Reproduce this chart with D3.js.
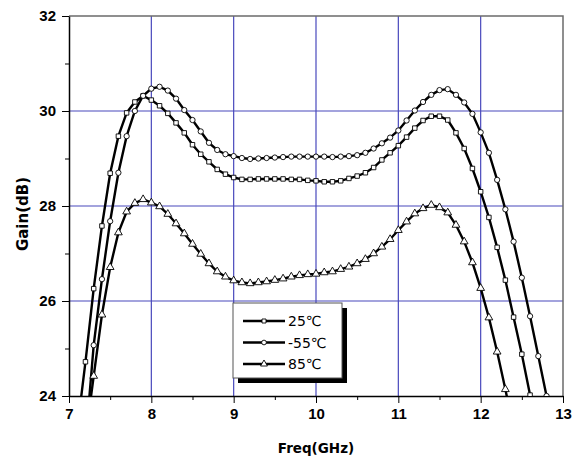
<!DOCTYPE html>
<html>
<head>
<meta charset="utf-8">
<script src="https://cdn.jsdelivr.net/npm/d3@7"></script>
<style>
  body { margin: 0; background: #fff; }
  .tick text { font-family: "Liberation Sans", Arial, sans-serif; font-weight: bold; font-size: 15px; fill: #000; }
</style>
</head>
<body>
<svg width="575" height="458"></svg>
<script>
// frequency points (GHz)
var freq = [7.1, 7.2, 7.3, 7.4, 7.5, 7.6, 7.7, 7.8, 7.9, 8.0,
            8.1, 8.2, 8.3, 8.4, 8.5, 8.6, 8.7, 8.8, 8.9, 9.0,
            9.1, 9.2, 9.3, 9.4, 9.5, 9.6, 9.7, 9.8, 9.9, 10.0,
            10.1, 10.2, 10.3, 10.4, 10.5, 10.6, 10.7, 10.8, 10.9, 11.0,
            11.1, 11.2, 11.3, 11.4, 11.5, 11.6, 11.7, 11.8, 11.9, 12.0,
            12.1, 12.2, 12.3, 12.4, 12.5, 12.6, 12.7, 12.8];

// gain (dB), null where the curve is off the chart
var gain25 = [23.3, 24.72, 26.26, 27.58, 28.69, 29.47, 29.96, 30.19, 30.32, 30.23,
              30.11, 29.95, 29.75, 29.54, 29.29, 29.09, 28.93, 28.77, 28.67, 28.60,
              28.56, 28.56, 28.57, 28.57, 28.57, 28.57, 28.56, 28.56, 28.54, 28.53,
              28.51, 28.51, 28.53, 28.58, 28.63, 28.70, 28.81, 28.97, 29.12, 29.27,
              29.45, 29.64, 29.80, 29.89, 29.89, 29.81, 29.54, 29.21, 28.79, 28.30,
              27.76, 27.13, 26.44, 25.66, 24.88, 24.02, 23.2, null];
var gainM55 = [null, 23.0, 25.07, 26.46, 27.68, 28.70, 29.47, 30.00, 30.32, 30.47,
               30.51, 30.43, 30.26, 30.02, 29.81, 29.57, 29.33, 29.18, 29.09, 29.05,
               29.01, 28.99, 29.00, 29.01, 29.02, 29.03, 29.04, 29.04, 29.04, 29.04,
               29.04, 29.03, 29.04, 29.05, 29.07, 29.12, 29.21, 29.32, 29.44, 29.59,
               29.80, 30.01, 30.19, 30.34, 30.44, 30.46, 30.34, 30.18, 29.94, 29.55,
               29.12, 28.55, 27.93, 27.25, 26.49, 25.68, 24.84, 24.0];
var gain85 = [null, 23.1, 24.42, 25.71, 26.71, 27.44, 27.88, 28.06, 28.14, 28.07,
              27.99, 27.83, 27.63, 27.42, 27.20, 26.99, 26.79, 26.62, 26.51, 26.43,
              26.39, 26.37, 26.39, 26.41, 26.44, 26.47, 26.51, 26.54, 26.56, 26.57,
              26.60, 26.62, 26.67, 26.72, 26.79, 26.88, 27.00, 27.14, 27.30, 27.49,
              27.67, 27.84, 27.95, 28.02, 27.97, 27.86, 27.60, 27.25, 26.81, 26.27,
              25.65, 24.93, 24.14, 23.3, null, null, null, null];

var seriesNames = ["25\u2103", "-55\u2103", "85\u2103"];
var xTicks = [7, 8, 9, 10, 11, 12, 13];
var yTicks = [24, 26, 28, 30, 32];

var svg = d3.select("svg"),
    margin = {top: 16, right: 12, bottom: 62, left: 69},
    width = +svg.attr("width") - margin.left - margin.right,
    height = +svg.attr("height") - margin.top - margin.bottom;

var x = d3.scaleLinear().domain([7, 13]).range([0, width]),
    y = d3.scaleLinear().domain([24, 32]).range([height, 0]);

var g = svg.append("g")
    .attr("transform", "translate(" + margin.left + "," + margin.top + ")");

svg.append("defs").append("clipPath").attr("id", "plot")
  .append("rect").attr("width", width).attr("height", height);

// blue grid at major ticks
var gridColor = "#4848bc";
g.selectAll(".vgrid")
  .data(xTicks.slice(1, -1))
  .enter().append("line")
    .attr("x1", function(d) { return x(d); })
    .attr("x2", function(d) { return x(d); })
    .attr("y1", 0).attr("y2", height)
    .attr("stroke", gridColor).attr("stroke-width", 1.2);
g.selectAll(".hgrid")
  .data(yTicks.slice(1, -1))
  .enter().append("line")
    .attr("y1", function(d) { return y(d); })
    .attr("y2", function(d) { return y(d); })
    .attr("x1", 0).attr("x2", width)
    .attr("stroke", gridColor).attr("stroke-width", 1.2);

// grey top and right frame
g.append("path")
    .attr("d", "M0,0H" + width + "V" + height)
    .attr("fill", "none").attr("stroke", "#6b6b6b").attr("stroke-width", 1.5);

// minor ticks
var xMinor = [7.5, 8.5, 9.5, 10.5, 11.5, 12.5],
    yMinor = [25, 27, 29, 31];
g.append("g")
    .attr("transform", "translate(0," + height + ")")
    .call(d3.axisBottom(x).tickValues(xMinor).tickSize(4).tickFormat(""))
    .call(function(a) { a.select(".domain").remove(); });
g.append("g")
    .call(d3.axisLeft(y).tickValues(yMinor).tickSize(4).tickFormat(""))
    .call(function(a) { a.select(".domain").remove(); });

// major axes
g.append("g")
    .attr("transform", "translate(0," + height + ")")
    .call(d3.axisBottom(x).tickValues(xTicks).tickSize(7).tickSizeOuter(0).tickPadding(5).tickFormat(d3.format("d")))
    .call(function(a) { a.select(".domain").attr("stroke-width", 1.5); });
g.append("g")
    .call(d3.axisLeft(y).tickValues(yTicks).tickSize(7).tickSizeOuter(0).tickPadding(6).tickFormat(d3.format("d")))
    .call(function(a) { a.select(".domain").attr("stroke-width", 1.5); });

// axis titles
svg.append("text")
    .attr("x", margin.left + width / 2)
    .attr("y", 453)
    .attr("text-anchor", "middle")
    .style("font-family", "DejaVu Sans, sans-serif")
    .style("font-weight", "bold")
    .style("font-size", "13.5px")
    .text("Freq(GHz)");
svg.append("text")
    .attr("transform", "translate(28," + (margin.top + height / 2 + 8) + ") rotate(-90)")
    .attr("text-anchor", "middle")
    .style("font-family", "DejaVu Sans, sans-serif")
    .style("font-size", "15px")
    .style("font-weight", "600")
    .text("Gain(dB)");

// curves
var symbols = [d3.symbolSquare, d3.symbolCircle, d3.symbolTriangle],
    symSize = [20, 22, 26],
    allGain = [gain25, gainM55, gain85];

var line = d3.line()
    .defined(function(d) { return d.g != null; })
    .x(function(d) { return x(d.f); })
    .y(function(d) { return y(d.g); });

var plot = g.append("g").attr("clip-path", "url(#plot)");

allGain.forEach(function(vals, i) {
  var pts = freq.map(function(f, j) { return {f: f, g: vals[j]}; });
  plot.append("path")
      .datum(pts)
      .attr("d", line)
      .attr("fill", "none")
      .attr("stroke", "#000")
      .attr("stroke-width", 2.4);
  plot.selectAll(".m" + i)
    .data(pts.filter(function(d) { return d.g != null; }))
    .enter().append("path")
      .attr("class", "m" + i)
      .attr("transform", function(d) { return "translate(" + x(d.f) + "," + y(d.g) + ")"; })
      .attr("d", d3.symbol().type(symbols[i]).size(symSize[i]))
      .attr("fill", "#fff")
      .attr("stroke", "#000")
      .attr("stroke-width", 0.9);
});

// legend box with shadow
var lg = svg.append("g").attr("transform", "translate(233,303)");
lg.append("rect").attr("x", 5).attr("y", 5).attr("width", 109).attr("height", 75).attr("fill", "#000");
lg.append("rect").attr("width", 109).attr("height", 75).attr("fill", "#fff").attr("stroke", "#555").attr("stroke-width", 1);

seriesNames.forEach(function(name, i) {
  var yy = 18 + i * 21.5;
  lg.append("line")
      .attr("x1", 10).attr("x2", 52)
      .attr("y1", yy).attr("y2", yy)
      .attr("stroke", "#000").attr("stroke-width", 2.4);
  lg.append("path")
      .attr("transform", "translate(31," + yy + ")")
      .attr("d", d3.symbol().type(symbols[i]).size(symSize[i] * 0.8))
      .attr("fill", "#fff").attr("stroke", "#000").attr("stroke-width", 0.9);
  lg.append("text")
      .attr("x", 55).attr("y", yy + 5)
      .style("font-family", "DejaVu Sans, sans-serif")
      .style("font-size", "14px")
      .text(name);
});
</script>
</body>
</html>
